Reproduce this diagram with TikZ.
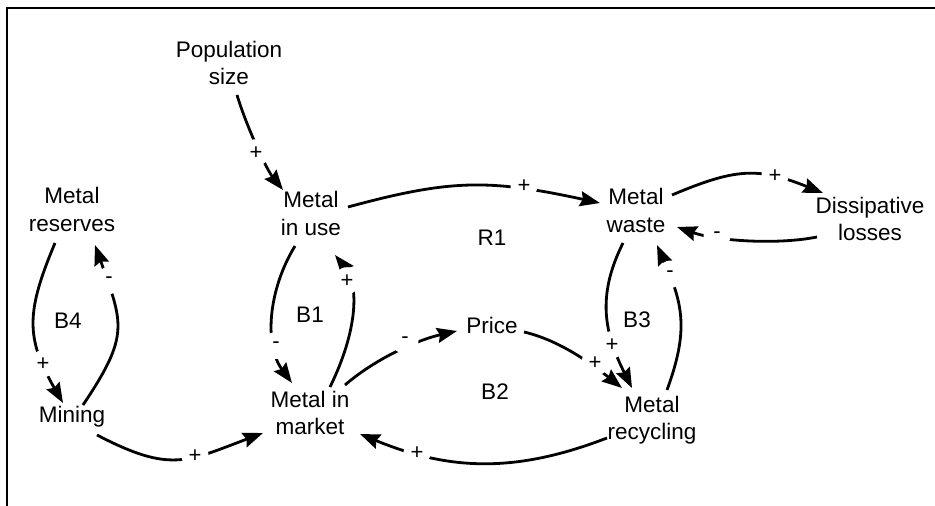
\documentclass[tikz,border=0pt]{standalone}
\usepackage{fontspec}
\setmainfont{Liberation Sans}
\usetikzlibrary{arrows.meta}
\begin{document}
\begin{tikzpicture}[x=1pt,y=-1pt,
  lbl/.style={font=\fontsize{22.5}{27.5}\selectfont, align=center, inner sep=0pt},
  sgn/.style={font=\fontsize{22}{27.5}\selectfont, circle, fill=white, inner sep=0pt, minimum size=27pt},
  conn/.style={line width=2.8pt, -{Stealth[length=20pt,width=15pt,inset=2.5pt]}},
  frame/.style={line width=2pt}]
\useasboundingbox (0,0) rectangle (935,506);
\draw[frame] (6.5,510) -- (6.5,7.5) -- (940,7.5);

% variables
\node[lbl] (pop) at (229,65.5) {\strut Population\\\strut size};
\node[lbl] (use) at (311,216) {\strut Metal\\\strut in use};
\node[lbl] (waste) at (636,213) {\strut Metal\\\strut waste};
\node[lbl] (res) at (72,212) {\strut Metal\\\strut reserves};
\node[lbl] (diss) at (870,221.5) {\strut Dissipative\\\strut losses};
\node[lbl] (mining) at (72,416.5) {\strut Mining};
\node[lbl] (market) at (310,415.5) {\strut Metal in\\\strut market};
\node[lbl] (price) at (492,327.5) {\strut Price};
\node[lbl] (recyc) at (652,420.5) {\strut Metal\\\strut recycling};

% loop labels
\node[lbl] (r1) at (492,239.5) {\strut R1};
\node[lbl] (b1) at (310,316.5) {\strut B1};
\node[lbl] (b4) at (68,322.5) {\strut B4};
\node[lbl] (b2) at (495,393.5) {\strut B2};
\node[lbl] (b3) at (637,321.5) {\strut B3};

% connectors
\draw[conn] ([shift={(8,29.5)}]pop.center) .. controls +(10,33) and +(-16,-20) .. ([shift={(-28,-26)}]use.center);
\draw[conn] ([shift={(37,-9)}]use.center) .. controls +(103,-28) and +(-111,-24) .. ([shift={(-36,-10)}]waste.center);
\draw[conn] ([shift={(-16,30)}]use.center) .. controls +(-27,44) and +(-28,-38) .. ([shift={(-18,-32.5)}]market.center);
\draw[conn] ([shift={(20,-28.5)}]market.center) .. controls +(28,-57) and +(24,30) .. ([shift={(24,39)}]use.center);
\draw[conn] ([shift={(-17,31)}]res.center) .. controls +(-29,69) and +(-37.5,-65) .. ([shift={(-9,-13.5)}]mining.center);
\draw[conn] ([shift={(11,-11.5)}]mining.center) .. controls +(47,-70) and +(28,79) .. ([shift={(23,33)}]res.center);
\draw[conn] ([shift={(25,18.5)}]mining.center) .. controls +(73,38) and +(-77,29) .. ([shift={(-47,17.5)}]market.center);
\draw[conn] ([shift={(35,-30.5)}]market.center) .. controls +(30,-26) and +(-40,9) .. ([shift={(-35,3.5)}]price.center);
\draw[conn] ([shift={(32,4.5)}]price.center) .. controls +(35,8) and +(-30,-24) .. ([shift={(-30,-32.5)}]recyc.center);
\draw[conn] ([shift={(-13,30)}]waste.center) .. controls +(-27,54) and +(-27,-54) .. ([shift={(-20,-32.5)}]recyc.center);
\draw[conn] ([shift={(15,-30.5)}]recyc.center) .. controls +(22,-60) and +(26,59) .. ([shift={(21,32)}]waste.center);
\draw[conn] ([shift={(-45,17.5)}]recyc.center) .. controls +(-91,35) and +(90,37) .. ([shift={(50,18.5)}]market.center);
\draw[conn] ([shift={(36,-18)}]waste.center) .. controls +(64,-27) and +(-65,-26) .. ([shift={(-47,-28.5)}]diss.center);
\draw[conn] ([shift={(-53,15.5)}]diss.center) .. controls +(-40,8) and +(40,14) .. ([shift={(41,14)}]waste.center);

% polarity signs
\node[sgn] (s1) at (256,152.7) {+};
\node[sgn] (s2) at (524,185.7) {+};
\node[sgn] (s3) at (276,345.5) {-};
\node[sgn] (s4) at (347,280.7) {+};
\node[sgn] (s5) at (43,363.7) {+};
\node[sgn] (s6) at (109,280.5) {-};
\node[sgn] (s7) at (195,455.7) {+};
\node[sgn] (s8) at (405,340.5) {-};
\node[sgn] (s9) at (595,362.7) {+};
\node[sgn] (s10) at (612,344.7) {+};
\node[sgn] (s11) at (670,274.5) {-};
\node[sgn] (s12) at (417,452.7) {+};
\node[sgn] (s13) at (775,175.7) {+};
\node[sgn] (s14) at (717,235.5) {-};
\end{tikzpicture}
\end{document}
